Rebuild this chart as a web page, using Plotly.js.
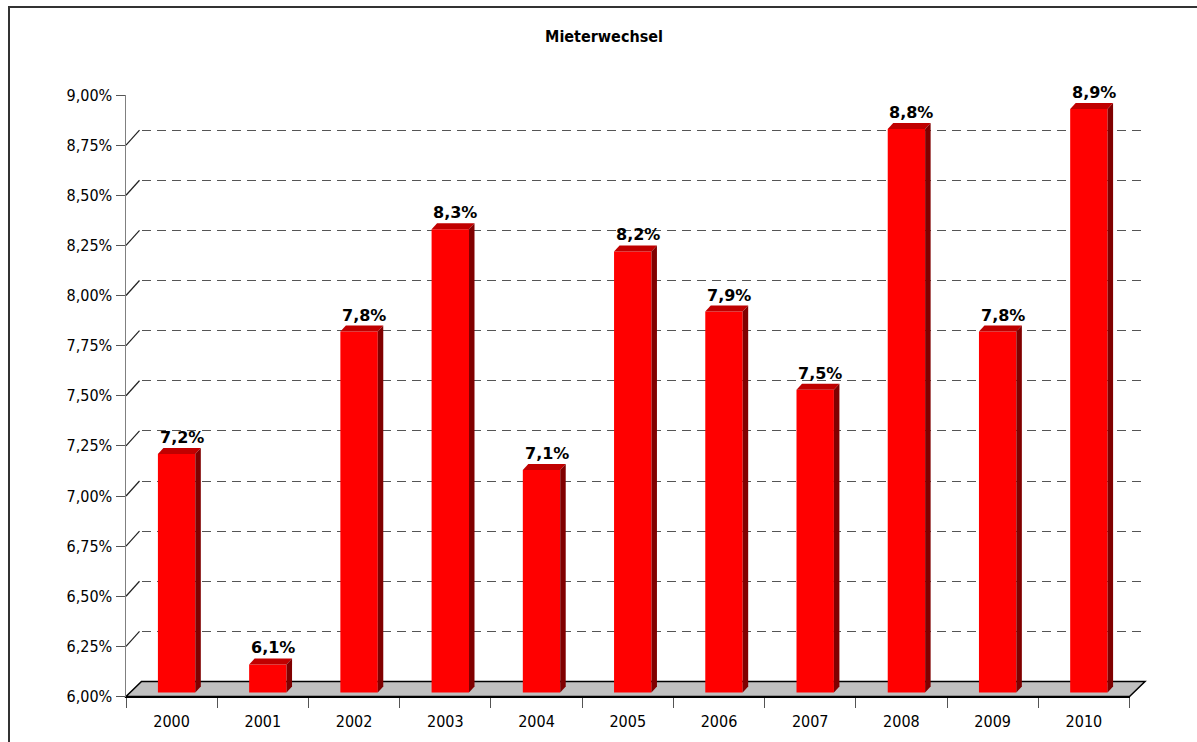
<!DOCTYPE html>
<html>
<head>
<meta charset="utf-8">
<script src="https://cdn.plot.ly/plotly-3.0.1.min.js"></script>
<style>html,body{margin:0;padding:0;background:#fff;}#chart{width:1197px;height:742px;}#err{position:absolute;left:300px;top:300px;color:blue;font:14px sans-serif;}</style>
</head>
<body>
<div id="chart"></div>
<div id="err"></div>
<script>
window.onerror = function(m){ document.getElementById('err').textContent += ' ERR: ' + m; };
// ---- data ----
const years = ['2000','2001','2002','2003','2004','2005','2006','2007','2008','2009','2010'];
const values = [7.19, 6.14, 7.80, 8.31, 7.11, 8.20, 7.90, 7.51, 8.81, 7.80, 8.91];
const yTicks = [6.00, 6.25, 6.50, 6.75, 7.00, 7.25, 7.50, 7.75, 8.00, 8.25, 8.50, 8.75, 9.00];
const yTickText = ['6,00%','6,25%','6,50%','6,75%','7,00%','7,25%','7,50%','7,75%','8,00%','8,25%','8,50%','8,75%','9,00%'];
const titleText = 'Mieterwechsel';

// ---- geometry (pixels) ----
const W = 1197, H = 742;
const px = x => x / W, py = y => 1 - y / H;
const F = {x0: 126, x1: 1129.5, yb: 696.5, yt: 95};      // front plane (axes)
const B = {dx: 5, dy: 4};                                   // bar plane offset
const K = {dx: 15.5, dy: 15};                               // back plane offset
const barW = 0.41;
const catPx = (F.x1 - F.x0) / years.length;
const pxPerUnit = (F.yb - F.yt) / 3;
const depthX = 5.5 / catPx;        // bar depth, in category units
const depthY = 6 / pxPerUnit;      // bar depth, in value units
const hw = barW / 2;
const FONT = '"DejaVu Sans Condensed", "DejaVu Sans", sans-serif';

const traces = [
  {type: 'scatter', mode: 'none', x: years, y: values, xaxis: 'x', yaxis: 'y', hoverinfo: 'skip', showlegend: false},
  {type: 'bar', x: years, y: values, xaxis: 'x2', yaxis: 'y2', width: barW,
   marker: {color: '#ff0000', line: {width: 0}}, showlegend: false, hoverinfo: 'x+y'},
  {type: 'scatter', mode: 'none', x: years, y: values, xaxis: 'x3', yaxis: 'y3', hoverinfo: 'skip', showlegend: false}
];

const shapes = [];
// chart border
shapes.push({type: 'rect', xref: 'paper', yref: 'paper', x0: px(9), x1: 1.05, y0: -0.05, y1: py(7),
  line: {color: '#333', width: 2}, fillcolor: 'rgba(0,0,0,0)', layer: 'below'});
// floor
shapes.push({type: 'path', xref: 'paper', yref: 'paper', layer: 'below',
  path: `M ${px(F.x0)},${py(F.yb)} L ${px(F.x1)},${py(F.yb)} L ${px(F.x1 + K.dx)},${py(F.yb - K.dy)} L ${px(F.x0 + K.dx)},${py(F.yb - K.dy)} Z`,
  fillcolor: '#c0c0c0', line: {color: '#000', width: 1.5}});
// tick connectors front -> back wall
const backDv = K.dy / pxPerUnit;
const backDx = (K.dx - 2) / catPx;
yTicks.slice(1, -1).forEach(v => {
  shapes.push({type: 'line', xref: 'x3', yref: 'y3', x0: -0.5, x1: -0.5 + backDx,
    y0: v, y1: v + backDv, line: {color: '#222', width: 1.2}});
});
// 3D faces of the bars
values.forEach((v, i) => {
  shapes.push({type: 'path', xref: 'x2', yref: 'y2',
    path: `M ${i - hw},${v} L ${i + hw},${v} L ${i + hw + depthX},${v + depthY} L ${i - hw + depthX},${v + depthY} Z`,
    fillcolor: '#c00000', line: {width: 0}});
  shapes.push({type: 'path', xref: 'x2', yref: 'y2',
    path: `M ${i + hw},${v} L ${i + hw + depthX},${v + depthY} L ${i + hw + depthX},${yTicks[0] + depthY} L ${i + hw},${yTicks[0]} Z`,
    fillcolor: '#800000', line: {width: 0}});
});

const annotations = values.map((v, i) => ({
  xref: 'x2', yref: 'y2', x: i, y: v, showarrow: false,
  text: v.toFixed(1).replace('.', ',') + '%',
  xanchor: 'center', yanchor: 'bottom', xshift: 5, yshift: 5,
  font: {family: '"DejaVu Sans", sans-serif', size: 16, color: '#000', weight: 'bold'}
}));

const layout = {
  width: W, height: H,
  margin: {l: 0, r: 0, t: 0, b: 0, pad: 0},
  paper_bgcolor: '#ffffff', plot_bgcolor: 'rgba(0,0,0,0)',
  separators: ',.',
  showlegend: false,
  font: {family: FONT, color: '#000'},
  title: {text: titleText, x: px(604), xanchor: 'center', xref: 'paper', y: py(36), yanchor: 'middle', yref: 'container',
    font: {family: FONT, size: 16, weight: 'bold', color: '#000'}},
  // back plane (grid)
  xaxis: {domain: [px(F.x0 + K.dx), px(F.x1 + K.dx)], anchor: 'y', type: 'category', range: [-0.5, years.length - 0.5],
    visible: false, fixedrange: true},
  yaxis: {domain: [py(F.yb - K.dy), py(F.yt - K.dy)], anchor: 'x', range: [yTicks[0], yTicks[yTicks.length - 1]],
    tickmode: 'array', tickvals: yTicks.slice(1, -1), showticklabels: false, ticks: '',
    showgrid: true, gridcolor: '#555555', gridwidth: 1, griddash: '9px,6px', zeroline: false, showline: false, fixedrange: true},
  // bar plane
  xaxis2: {domain: [px(F.x0 + B.dx), px(F.x1 + B.dx)], anchor: 'y2', type: 'category', range: [-0.5, years.length - 0.5],
    visible: false, fixedrange: true},
  yaxis2: {domain: [py(F.yb - B.dy), py(F.yt - B.dy)], anchor: 'x2', range: [yTicks[0], yTicks[yTicks.length - 1]],
    visible: false, fixedrange: true},
  // front plane (visible axes)
  xaxis3: {domain: [px(F.x0), px(F.x1)], anchor: 'y3', type: 'category', range: [-0.5, years.length - 0.5],
    tickson: 'boundaries', ticks: 'outside', ticklen: 10, tickcolor: '#555', tickwidth: 1,
    ticklabelstandoff: 10,
    showline: true, linecolor: '#000', linewidth: 1.5, showgrid: false, zeroline: false,
    tickfont: {family: FONT, size: 16, color: '#000'}, fixedrange: true},
  yaxis3: {domain: [py(F.yb), py(F.yt)], anchor: 'x3', range: [yTicks[0], yTicks[yTicks.length - 1]],
    tickmode: 'array', tickvals: yTicks, ticktext: yTickText,
    ticks: 'outside', ticklen: 9, tickcolor: '#555', tickwidth: 1,
    showline: true, linecolor: '#808080', linewidth: 1.5, showgrid: false, zeroline: false,
    tickfont: {family: FONT, size: 16, color: '#000'}, fixedrange: true},
  shapes: shapes,
  annotations: annotations
};

Plotly.newPlot('chart', traces, layout, {displayModeBar: false, staticPlot: true})
  .catch(e => { document.getElementById('err').textContent += ' PROMISE: ' + e; });
</script>
</body>
</html>
